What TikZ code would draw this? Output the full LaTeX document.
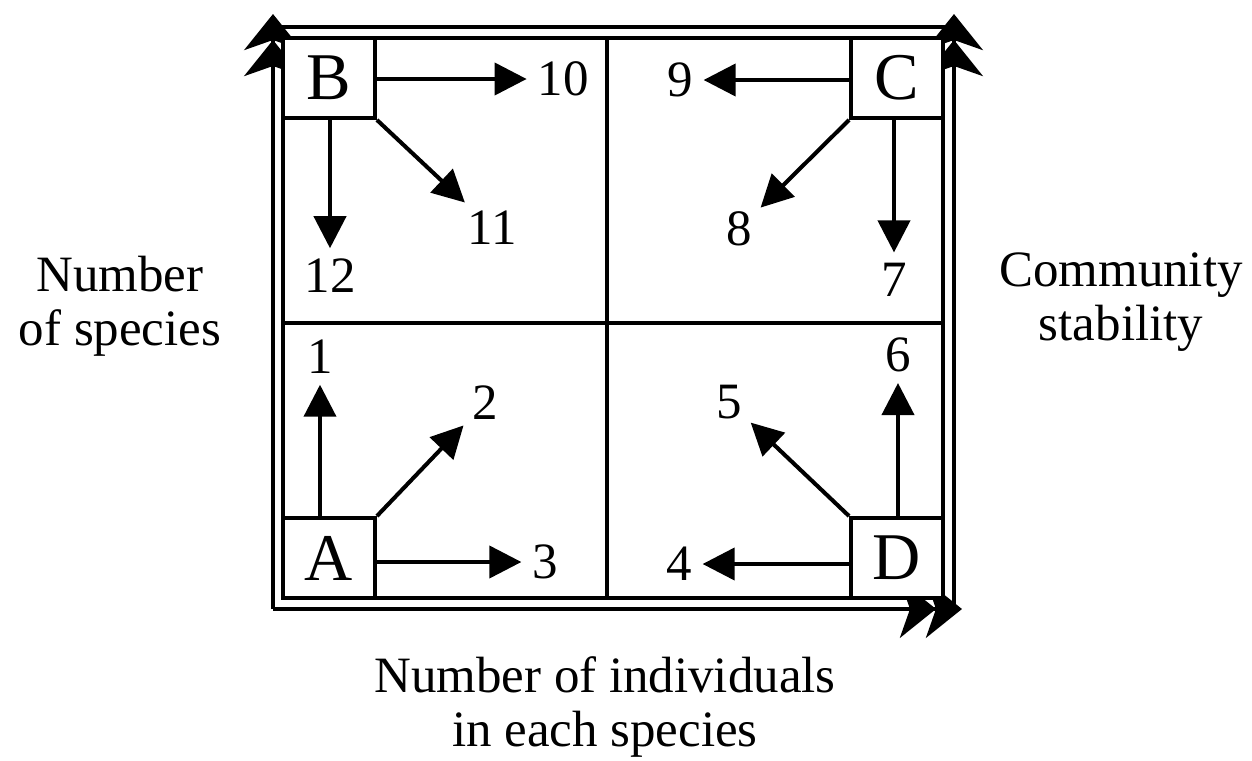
\documentclass[tikz,border=0pt]{standalone}
\usepackage{fontspec}
\setmainfont{Liberation Serif}
\usepackage{tikz}
\usetikzlibrary{arrows.meta}

\begin{document}
\begin{tikzpicture}[
        x=0.02cm, y=-0.02cm,
        corner/.style={draw, line width=2.2pt, fill=white, minimum width=1.84cm, minimum height=1.6cm, inner sep=0pt, font=\fontsize{38}{38}\selectfont},
        num/.style={inner sep=2pt, font=\fontsize{29}{29}\selectfont},
        axislabel/.style={align=center, font=\fontsize{29}{31}\selectfont},
        frame/.style={line width=2.2pt},
        axis/.style={line width=2.8pt, -{Stealth[length=0.72cm,width=1.15cm,inset=0.2cm,sep=-0.2cm]Stealth[length=0.72cm,width=1.15cm,inset=0.2cm]}},
        arr/.style={line width=2.3pt, shorten >=4pt, -{Triangle[length=0.64cm,width=0.64cm]}}
      ]
      \useasboundingbox (0,0) rectangle (1252,761);

      % axes round the chart
      \coordinate (o) at (273,609);
      \coordinate (tl) at (273,27);
      \coordinate (tr) at (954,27);
      \coordinate (br) at (954,609);
      \coordinate (ytip) at (273,14);
      \coordinate (xtip) at (962,609);
      \coordinate (stip) at (954,14);
      \draw[frame] (tl) -- (tr);
      \draw[axis] (o) -- (ytip);
      \draw[axis] (o) -- (xtip);
      \draw[axis] (br) -- (stip);

      % the four quarters
      \draw[frame] (283,38) rectangle (943,598);
      \draw[frame] (607,38) -- (607,598);
      \draw[frame] (283,323) -- (943,323);

      \node[corner] (A) at (329,558) {A};
      \node[corner] (B) at (329,78) {B};
      \node[corner] (C) at (897,78) {C};
      \node[corner] (D) at (897,558) {D};

      \node[num] (n1) at (320,357) {1};
      \node[num] (n2) at (485,403) {2};
      \node[num] (n3) at (545,562) {3};
      \node[num] (n4) at (679,564) {4};
      \node[num] (n5) at (729,402) {5};
      \node[num] (n6) at (898,355) {6};
      \node[num] (n7) at (894,280) {7};
      \node[num] (n8) at (739,229) {8};
      \node[num] (n9) at (680,80) {9};
      \node[num] (n10) at (563,79) {10};
      \node[num] (n11) at (492,228) {11};
      \node[num] (n12) at (330,276) {12};

      \draw[arr] (n1 |- A.north) -- (n1);
      \draw[arr] (A.north east) -- (n2);
      \draw[arr] (A.east |- n3) -- (n3);
      \draw[arr] (D.west |- n4) -- (n4);
      \draw[arr] (D.north west) -- (n5);
      \draw[arr] (n6 |- D.north) -- (n6);
      \draw[arr] (n7 |- C.south) -- (n7);
      \draw[arr] (C.south west) -- (n8);
      \draw[arr] (C.west |- n9) -- (n9);
      \draw[arr] (B.east |- n10) -- (n10);
      \draw[arr] (B.south east) -- (n11);
      \draw[arr] (n12 |- B.south) -- (n12);

      \node[axislabel] (ylab) at (120,306) {Number\\of species};
      \node[axislabel] (slab) at (1121,302) {Community\\stability};
      \node[axislabel] (xlab) at (605,707) {Number of individuals\\in each species};
    \end{tikzpicture}
\end{document}
